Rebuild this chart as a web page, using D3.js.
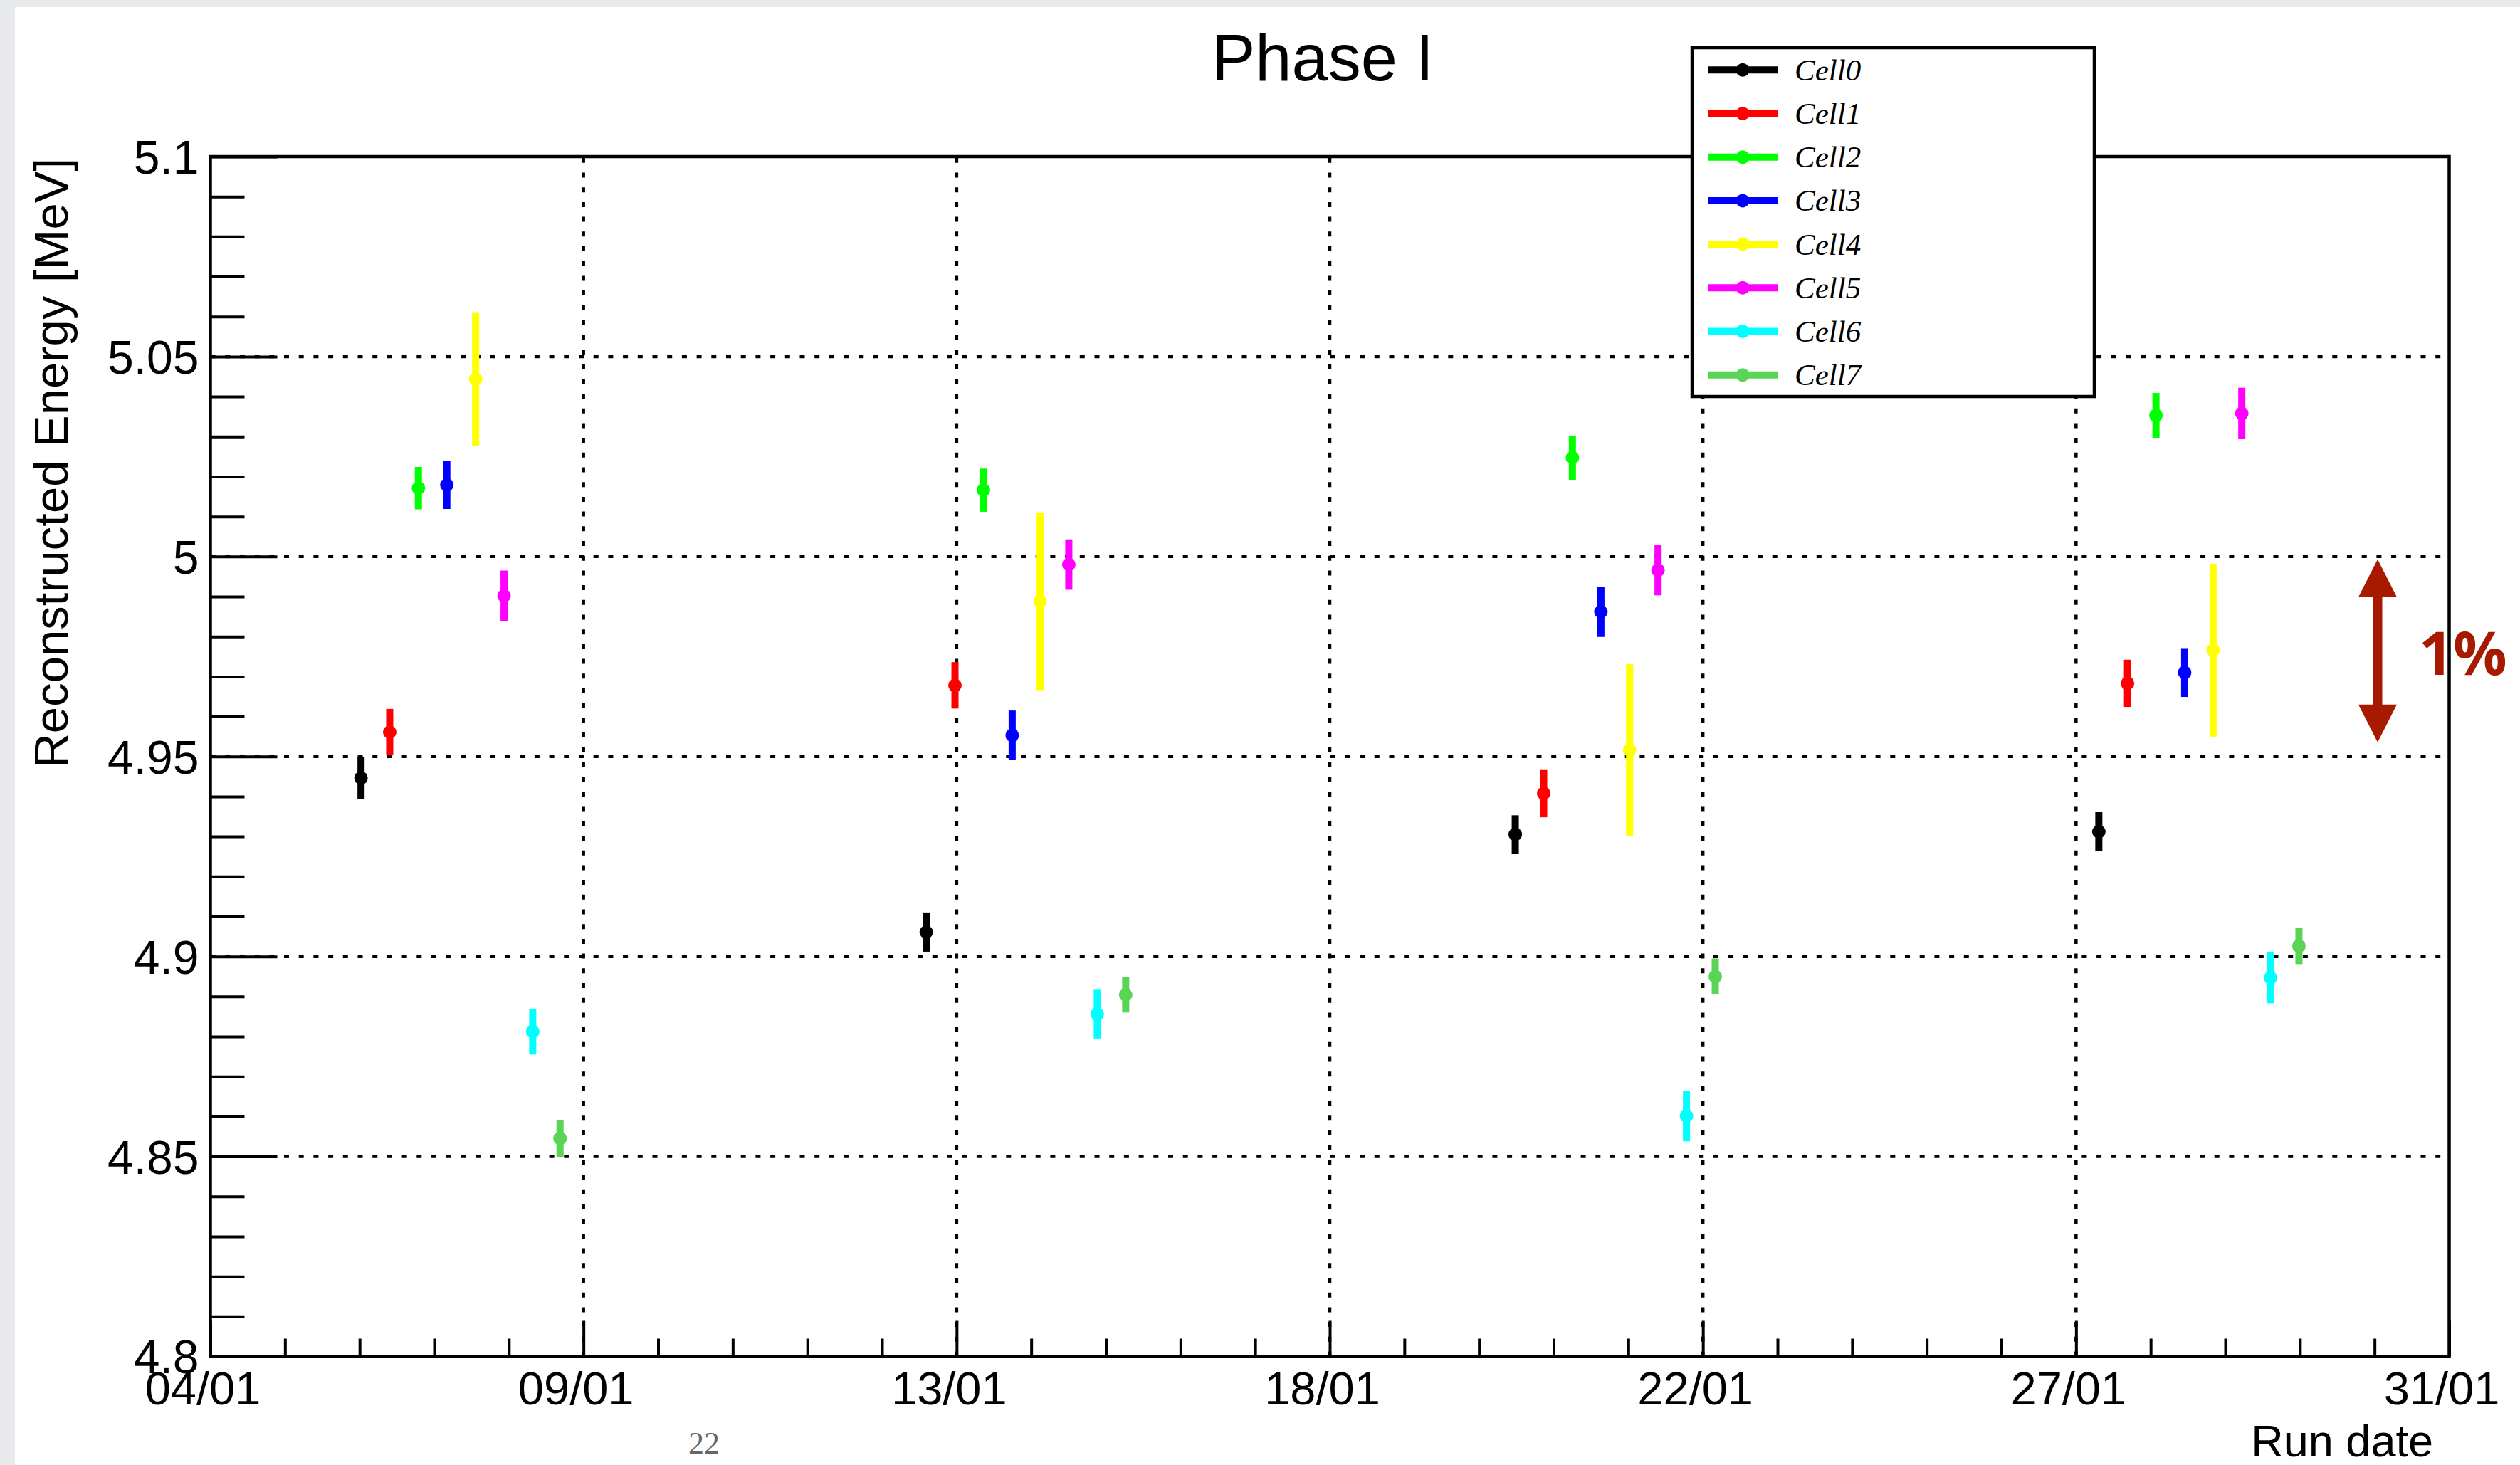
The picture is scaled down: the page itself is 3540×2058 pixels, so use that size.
<!DOCTYPE html>
<html>
<head>
<meta charset="utf-8">
<script src="https://cdn.jsdelivr.net/npm/d3@7"></script>
<style>
  html, body { margin: 0; padding: 0; background: #e7e9eb; }
  svg { display: block; }
</style>
</head>
<body>
<svg id="chart" width="3540" height="2058"></svg>
<script>
// ---- data ---------------------------------------------------------------
const cells = ["Cell0", "Cell1", "Cell2", "Cell3", "Cell4", "Cell5", "Cell6", "Cell7"];
const cellColors = ["#000000", "#ff0000", "#00ff00", "#0000ff", "#ffff00", "#ff00ff", "#00ffff", "#59d454"];

// run time of each measurement, as day of January (fractional)
const runDay = [
  [6.317, 13.134, 20.237, 27.275],
  [6.663, 13.480, 20.580, 27.621],
  [7.009, 13.823, 20.926, 27.964],
  [7.352, 14.170, 21.270, 28.310],
  [7.699, 14.507, 21.616, 28.653],
  [8.042, 14.853, 21.959, 28.999],
  [8.388, 15.196, 22.302, 29.345],
  [8.717, 15.539, 22.649, 29.688]
];

// reconstructed energy [MeV]
const energy = [
  [4.9446, 4.9061, 4.9305, 4.9312],
  [4.9561, 4.9678, 4.9408, 4.9683],
  [5.0171, 5.0166, 5.0247, 5.0353],
  [5.0179, 4.9553, 4.9862, 4.9710],
  [5.0444, 4.9888, 4.9516, 4.9766],
  [4.9902, 4.9980, 4.9966, 5.0358],
  [4.8812, 4.8856, 4.8601, 4.8947],
  [4.8545, 4.8904, 4.8950, 4.9026]
];

// statistical error on the energy [MeV]
const energyErr = [
  [0.0053, 0.0049, 0.0048, 0.0049],
  [0.0058, 0.0058, 0.0060, 0.0059],
  [0.0053, 0.0054, 0.0055, 0.0056],
  [0.0060, 0.0062, 0.0063, 0.0061],
  [0.0167, 0.0222, 0.0215, 0.0216],
  [0.0063, 0.0063, 0.0063, 0.0064],
  [0.0057, 0.0061, 0.0063, 0.0064],
  [0.0046, 0.0044, 0.0045, 0.0045]
];

// time axis divisions
const xTickTimes = ["2018-01-04T12:00", "2018-01-09T00:00", "2018-01-13T12:00", "2018-01-18T00:00",
                    "2018-01-22T12:00", "2018-01-27T00:00", "2018-01-31T12:00"];
const yMajorTicks = [4.8, 4.85, 4.9, 4.95, 5.0, 5.05, 5.1];

const titleText = "Phase I";
const xTitle = "Run date";
const yTitle = "Reconstructed Energy [MeV]";

// ---- layout -------------------------------------------------------------
const W = 3540, H = 2058;
const plot = { left: 295.5, right: 3440.5, top: 220, bottom: 1905.5 };
const FONT = "'Liberation Sans', Arial, Helvetica, sans-serif";
const ARROW_RED = "#a81a00";

const svg = d3.select("#chart");

// page background: white slide over a light grey margin
svg.append("rect").attr("x", 0).attr("y", 0).attr("width", W).attr("height", H).attr("fill", "#e7e9eb");
svg.append("rect").attr("x", 21).attr("y", 10).attr("width", W - 21).attr("height", H - 10).attr("fill", "#ffffff");

// ---- scales -------------------------------------------------------------
const xTicks = xTickTimes.map(s => new Date(s));
const x = d3.scaleTime().domain([xTicks[0], xTicks[xTicks.length - 1]]).range([plot.left, plot.right]);
const y = d3.scaleLinear().domain([4.8, 5.1]).range([plot.bottom, plot.top]);

const jan1 = new Date(2018, 0, 1);
const dayToDate = d => new Date(jan1.getTime() + (d - 1) * 864e5);

// minor tick positions: 5 subdivisions per major division
const xMinor = [];
for (let i = 0; i < xTicks.length - 1; i++) {
  const a = xTicks[i].getTime(), b = xTicks[i + 1].getTime();
  for (let k = 1; k < 5; k++) xMinor.push(new Date(a + (b - a) * k / 5));
}
const yMinor = [];
for (let i = 0; i < yMajorTicks.length - 1; i++) {
  for (let k = 1; k < 5; k++) yMinor.push(yMajorTicks[i] + (yMajorTicks[i + 1] - yMajorTicks[i]) * k / 5);
}

// ---- grid ---------------------------------------------------------------
const grid = svg.append("g").attr("stroke", "#000").attr("stroke-width", 4.5)
  .attr("stroke-dasharray", "7 13.7").attr("fill", "none");
grid.selectAll("line.h").data(yMajorTicks.slice(1, -1)).join("line").attr("class", "h")
  .attr("x1", plot.left).attr("x2", plot.right)
  .attr("y1", d => y(d)).attr("y2", d => y(d));
grid.selectAll("line.v").data(xTicks.slice(1, -1)).join("line").attr("class", "v")
  .attr("x1", d => x(d)).attr("x2", d => x(d))
  .attr("y1", plot.bottom).attr("y2", plot.top);

// ---- axes ---------------------------------------------------------------
const yAxisMajor = d3.axisLeft(y).tickValues(yMajorTicks).tickSize(-94).tickPadding(17)
  .tickFormat(d3.format(""));
const yAxisMinor = d3.axisLeft(y).tickValues(yMinor).tickSize(-48).tickFormat("");
const xAxisMajor = d3.axisBottom(x).tickValues(xTicks).tickSize(-50)
  .tickFormat(d3.timeFormat("%d/%m"));
const xAxisMinor = d3.axisBottom(x).tickValues(xMinor).tickSize(-25).tickFormat("");

function styleAxis(g) {
  g.select(".domain").remove();
  g.selectAll(".tick line").attr("stroke", "#000").attr("stroke-width", 4);
  g.selectAll(".tick text").attr("fill", "#000").attr("font-family", FONT);
}

svg.append("g").attr("transform", `translate(${plot.left},0)`).call(yAxisMinor).call(styleAxis);
const gy = svg.append("g").attr("transform", `translate(${plot.left},0)`).call(yAxisMajor).call(styleAxis);
gy.selectAll(".tick text").attr("font-size", 66).attr("x", -16).attr("dy", "0.355em");

svg.append("g").attr("transform", `translate(0,${plot.bottom})`).call(xAxisMinor).call(styleAxis);
const gx = svg.append("g").attr("transform", `translate(0,${plot.bottom})`).call(xAxisMajor).call(styleAxis);
gx.selectAll(".tick text").attr("font-size", 65).attr("y", 67).attr("dy", 0).attr("dx", -11);

// frame
svg.append("rect")
  .attr("x", plot.left).attr("y", plot.top)
  .attr("width", plot.right - plot.left).attr("height", plot.bottom - plot.top)
  .attr("fill", "none").attr("stroke", "#000").attr("stroke-width", 4.5);

// ---- data: error bars and markers ---------------------------------------
const points = [];
cells.forEach((c, ci) => {
  runDay[ci].forEach((d, k) => {
    points.push({ cell: c, color: cellColors[ci], t: dayToDate(d), e: energy[ci][k], err: energyErr[ci][k] });
  });
});

const gData = svg.append("g");
gData.selectAll("line.err").data(points).join("line").attr("class", "err")
  .attr("x1", d => x(d.t)).attr("x2", d => x(d.t))
  .attr("y1", d => y(d.e - d.err)).attr("y2", d => y(d.e + d.err))
  .attr("stroke", d => d.color).attr("stroke-width", 10);
gData.selectAll("circle").data(points).join("circle")
  .attr("cx", d => x(d.t)).attr("cy", d => y(d.e)).attr("r", 9.5)
  .attr("fill", d => d.color);

// ---- titles -------------------------------------------------------------
svg.append("text").attr("x", 1858).attr("y", 113).attr("text-anchor", "middle")
  .attr("font-family", FONT).attr("font-size", 92).text(titleText);

svg.append("text").attr("x", 3418).attr("y", 2046).attr("text-anchor", "end")
  .attr("font-family", FONT).attr("font-size", 63).text(xTitle);

svg.append("text").attr("transform", `translate(95,${plot.top + 2}) rotate(-90)`)
  .attr("text-anchor", "end").attr("font-family", FONT).attr("font-size", 67).text(yTitle);

// ---- legend -------------------------------------------------------------
const leg = { x: 2377, y: 67, w: 565, h: 490, row0: 98.3, step: 61.2 };
const gl = svg.append("g");
gl.append("rect").attr("x", leg.x).attr("y", leg.y).attr("width", leg.w).attr("height", leg.h)
  .attr("fill", "#fff").attr("stroke", "#000").attr("stroke-width", 4.5);
const rows = gl.selectAll("g.row").data(cells).join("g").attr("class", "row")
  .attr("transform", (d, i) => `translate(0,${leg.row0 + i * leg.step})`);
rows.append("line").attr("x1", 2399).attr("x2", 2498).attr("y1", 0).attr("y2", 0)
  .attr("stroke", (d, i) => cellColors[i]).attr("stroke-width", 10);
rows.append("circle").attr("cx", 2448).attr("cy", 0).attr("r", 9.5)
  .attr("fill", (d, i) => cellColors[i]);
rows.append("text").attr("x", 2521).attr("y", 14.5)
  .attr("font-family", "'Liberation Serif', 'Times New Roman', serif")
  .attr("font-style", "italic").attr("font-size", 43).text(d => d);

// ---- 1% scale marker ----------------------------------------------------
const ax = 3340, aTop = y(5.0) + 4, aBot = y(4.95) - 20, head = 53, half = 27;
const ga = svg.append("g").attr("fill", ARROW_RED);
ga.append("rect").attr("x", ax - 6.5).attr("y", aTop + head - 2).attr("width", 13)
  .attr("height", aBot - aTop - 2 * head + 4);
ga.append("path").attr("d", `M${ax},${aTop} L${ax + half},${aTop + head} L${ax - half},${aTop + head} Z`);
ga.append("path").attr("d", `M${ax},${aBot} L${ax + half},${aBot - head} L${ax - half},${aBot - head} Z`);
svg.append("text").attr("x", 3398).attr("y", 948)
  .attr("font-family", "'Open Sans', sans-serif").attr("font-weight", 700)
  .attr("font-size", 84).attr("fill", ARROW_RED).text("1%");

// page number
svg.append("text").attr("x", 989).attr("y", 2042).attr("text-anchor", "middle")
  .attr("font-family", "'Liberation Serif', serif").attr("font-size", 44).attr("fill", "#666")
  .text("22");
</script>
</body>
</html>
